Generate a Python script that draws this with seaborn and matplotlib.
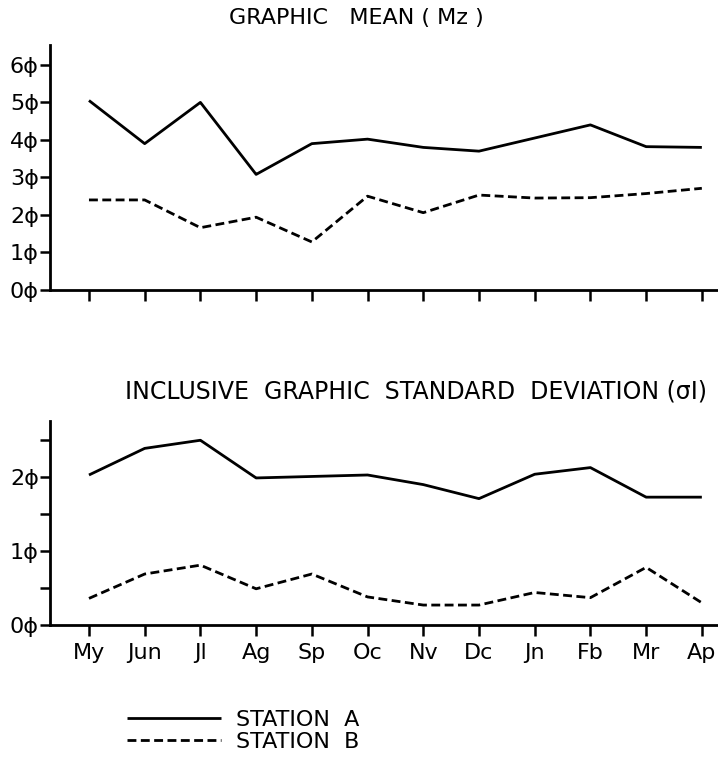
import pandas as pd
import numpy as np
import matplotlib
matplotlib.use('Agg')
import matplotlib.pyplot as plt
import seaborn as sns

# values
months = ['My', 'Jun', 'Jl', 'Ag', 'Sp', 'Oc', 'Nv', 'Dc', 'Jn', 'Fb', 'Mr', 'Ap']
mean_a = [5.05, 3.90, 5.00, 3.08, 3.90, 4.02, 3.80, 3.70, 4.05, 4.40, 3.82, 3.80]
mean_b = [2.40, 2.40, 1.66, 1.94, 1.28, 2.50, 2.06, 2.53, 2.45, 2.46, 2.57, 2.71]
sd_a = [2.03, 2.39, 2.50, 1.99, 2.01, 2.03, 1.90, 1.71, 2.04, 2.13, 1.73, 1.73]
sd_b = [0.36, 0.69, 0.81, 0.49, 0.69, 0.38, 0.27, 0.27, 0.44, 0.37, 0.78, 0.30]
stations = ['STATION  A', 'STATION  B']

mean_ticks = [0, 1, 2, 3, 4, 5, 6]
mean_labels = ['0ϕ', '1ϕ', '2ϕ', '3ϕ', '4ϕ', '5ϕ', '6ϕ']
sd_ticks = [0, 0.5, 1, 1.5, 2, 2.5]
sd_labels = ['0ϕ', '', '1ϕ', '', '2ϕ', '']

sns.set_style('ticks')
plt.rcParams['font.family'] = ['DejaVu Sans']
plt.rcParams['text.color'] = 'black'
plt.rcParams['xtick.color'] = 'black'
plt.rcParams['ytick.color'] = 'black'
plt.rcParams['axes.edgecolor'] = 'black'


def make_frame(a, b):
    return pd.DataFrame({
        'month': months * 2,
        'value': a + b,
        'station': [stations[0]] * len(a) + [stations[1]] * len(b),
    })


fig = plt.figure(figsize=(7.18, 7.70), dpi=100)
ax_top = fig.add_axes([0.0696, 0.6234, 0.9304, 0.3182])
ax_bot = fig.add_axes([0.0696, 0.1883, 0.9304, 0.2649])

line_kw = dict(x='month', y='value', style='station', color='black',
               linewidth=2.0, dashes=[(1, 0), (3.2, 1.6)], legend=False)

sns.lineplot(data=make_frame(mean_a, mean_b), ax=ax_top, **line_kw)
sns.lineplot(data=make_frame(sd_a, sd_b), ax=ax_bot, **line_kw)

for ax in (ax_top, ax_bot):
    ax.set_xlim(-0.70, 11.29)
    ax.set_xlabel('')
    ax.set_ylabel('')
    ax.spines['top'].set_visible(False)
    ax.spines['right'].set_visible(False)
    ax.spines['left'].set_linewidth(2.0)
    ax.spines['bottom'].set_linewidth(2.0)
    ax.tick_params(axis='x', direction='out', length=8, width=1.8, pad=5,
                   labelsize=16)
    ax.tick_params(axis='y', direction='out', length=7, width=1.8, pad=1,
                   labelsize=16)

ax_top.set_ylim(0, 6.53)
ax_top.set_yticks(mean_ticks)
ax_top.set_yticklabels(mean_labels)
ax_top.set_xticks(range(len(months)))
ax_top.set_xticklabels([''] * len(months))

ax_bot.set_ylim(0, 2.76)
ax_bot.set_yticks(sd_ticks)
ax_bot.set_yticklabels(sd_labels)
ax_bot.set_xticks(range(len(months)))
ax_bot.set_xticklabels(months)

fig.text(0.497, 0.977, 'GRAPHIC   MEAN ( Mz )', ha='center', va='center', fontsize=16)
fig.text(0.174, 0.491, 'INCLUSIVE  GRAPHIC  STANDARD  DEVIATION (σI)',
         ha='left', va='center', fontsize=17)

handles = ax_bot.get_lines()[:2]
fig.legend(handles, stations, loc='center left', bbox_to_anchor=(0.165, 0.051),
           frameon=False, fontsize=16, handlelength=4.2, handletextpad=0.7,
           labelspacing=0.1, borderaxespad=0)

fig.savefig('out.png', dpi=100)
